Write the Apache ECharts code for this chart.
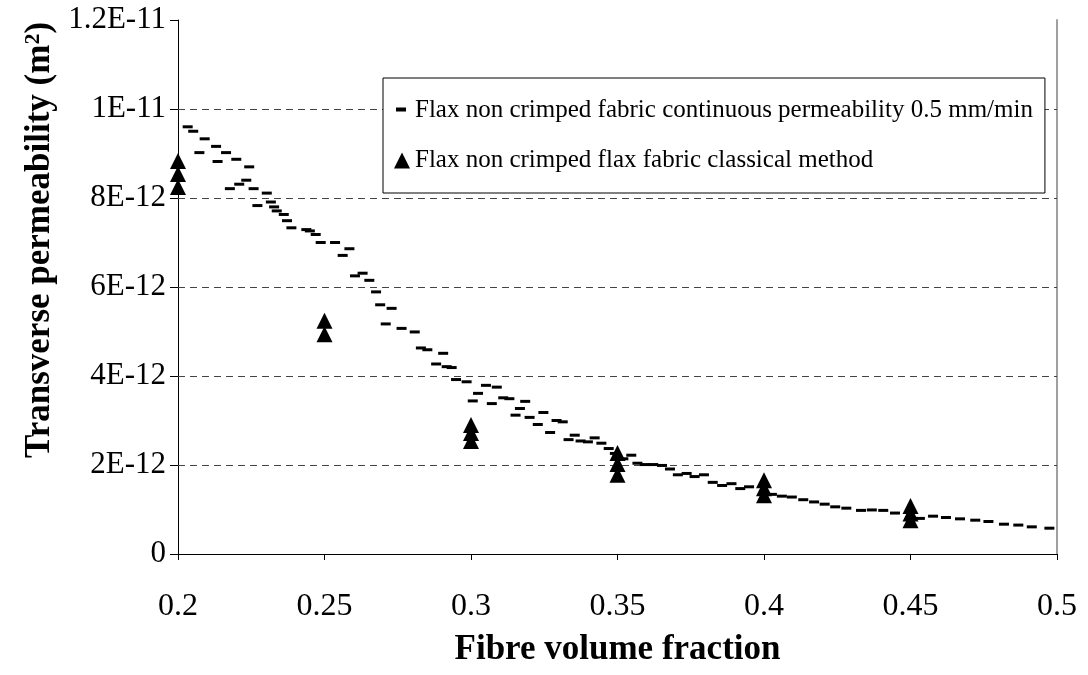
<!DOCTYPE html>
<html><head><meta charset="utf-8">
<script src="https://cdn.jsdelivr.net/npm/echarts@6/dist/echarts.min.js"></script>
<style>html,body{margin:0;padding:0;background:#fff}#c{width:1088px;height:675px}</style>
</head><body><div id="c"></div>
<script>
// Permeability values are stored in units of 1E-12 m^2
const seriesNames = ['Flax non crimped fabric continuous permeability 0.5 mm/min', 'Flax non crimped flax fabric classical method'];
const contFrac = [0.2033,0.2052,0.2073,0.2091,0.2130,0.2135,0.2164,0.2177,0.2199,0.2209,0.2233,0.2243,0.2258,0.2271,0.2303,0.2317,0.2328,0.2337,0.2361,0.2372,0.2387,0.2438,0.2450,0.2470,0.2487,0.2536,0.2562,0.2585,0.2604,0.2630,0.2653,0.2676,0.2690,0.2709,0.2729,0.2763,0.2808,0.2829,0.2851,0.2881,0.2905,0.2917,0.2934,0.2949,0.2985,0.3006,0.3024,0.3051,0.3071,0.3088,0.3110,0.3131,0.3152,0.3167,0.3185,0.3200,0.3228,0.3247,0.3270,0.3292,0.3313,0.3333,0.3354,0.3374,0.3399,0.3422,0.3445,0.3470,0.3491,0.3520,0.3547,0.3568,0.3593,0.3622,0.3652,0.3679,0.3706,0.3736,0.3763,0.3795,0.3825,0.3857,0.3889,0.3919,0.3949,0.4027,0.4061,0.4095,0.4134,0.4171,0.4207,0.4243,0.4281,0.4331,0.4368,0.4407,0.4447,0.4532,0.4577,0.4621,0.4669,0.4721,0.4766,0.4819,0.4868,0.4914,0.4974];
const contPerm = [9.60,9.50,9.02,9.33,9.16,8.82,9.02,8.21,8.87,8.31,8.40,8.70,8.21,7.83,8.11,7.91,7.80,7.71,7.63,7.49,7.33,7.29,7.26,7.18,7.00,7.00,6.71,6.86,6.25,6.31,6.15,5.89,5.60,5.17,5.52,5.07,4.99,4.63,4.59,4.27,4.51,4.21,4.19,3.92,3.87,3.44,3.61,3.79,3.38,3.75,3.51,3.49,3.12,3.27,3.43,3.07,2.91,3.18,2.73,3.00,2.97,2.57,2.67,2.54,2.52,2.61,2.49,2.37,2.26,2.14,2.22,2.04,2.01,2.01,1.99,1.91,1.78,1.81,1.74,1.78,1.61,1.54,1.58,1.47,1.51,1.34,1.30,1.28,1.22,1.17,1.12,1.06,1.03,0.98,0.99,0.98,0.92,0.80,0.85,0.82,0.79,0.76,0.73,0.67,0.65,0.61,0.58];
const classFrac = [0.2,0.2,0.2,0.25,0.25,0.3,0.3,0.3,0.35,0.35,0.35,0.4,0.4,0.4,0.45,0.45,0.45];
const classPerm = [8.83,8.54,8.25,5.24,4.94,2.90,2.72,2.54,2.27,2.02,1.78,1.66,1.48,1.32,1.08,0.91,0.76];
const yTickValues = [0,2,4,6,8,10,12];
const yTickLabels = ['0','2E-12','4E-12','6E-12','8E-12','1E-11','1.2E-11'];
const xTickLabels = ['0.2','0.25','0.3','0.35','0.4','0.45','0.5'];
const gridValues = [2,4,6,8,10];

const FONT = '"Liberation Serif", "Times New Roman", serif';
const chart = echarts.init(document.getElementById('c'));
const dashIcon = 'path://M0,0 L0,0.01 M2,5 L12,5 L12,9 L2,9 Z M16,16 L16,15.99';
chart.setOption({
  animation: false,
  backgroundColor: '#fff',
  grid: {left: 178, right: 31, top: 20, bottom: 121},
  legend: {
    orient: 'vertical', left: 383, top: 78,
    backgroundColor: '#fff', borderColor: '#000', borderWidth: 1,
    padding: [20, 12, 20, 11], itemGap: 25, itemWidth: 16, itemHeight: 16,
    textStyle: {fontFamily: FONT, fontSize: 25, color: '#000'},
    data: [{name: seriesNames[0], icon: dashIcon}, {name: seriesNames[1], icon: 'triangle'}]
  },
  xAxis: {
    type: 'value', min: 0.2, max: 0.5, interval: 0.05,
    axisLine: {show: true, lineStyle: {color: '#000', width: 1}},
    axisTick: {show: true, length: 6, lineStyle: {color: '#000'}},
    splitLine: {show: false},
    axisLabel: {fontFamily: FONT, fontSize: 32, color: '#000', margin: 37,
      formatter: v => xTickLabels[Math.round((v - 0.2) / 0.05)]},
    name: 'Fibre volume fraction', nameLocation: 'middle', nameGap: 78,
    nameTextStyle: {fontFamily: FONT, fontSize: 35, fontWeight: 'bold', color: '#000'}
  },
  yAxis: [{
    type: 'value', min: 0, max: 12, interval: 2,
    axisLine: {show: true, lineStyle: {color: '#000', width: 1}},
    axisTick: {show: true, length: 8, lineStyle: {color: '#000'}},
    splitLine: {show: false},
    axisLabel: {fontFamily: FONT, fontSize: 31, color: '#000', margin: 12,
      formatter: v => yTickLabels[yTickValues.indexOf(Math.round(v))]}
  }, {
    type: 'value', min: 0, max: 12, interval: 2, position: 'right',
    axisLine: {show: true, lineStyle: {color: '#a0a0a0', width: 2}},
    axisTick: {show: false}, axisLabel: {show: false}, splitLine: {show: false}
  }],
  graphic: [{
    type: 'text', x: 40, y: 240, rotation: Math.PI / 2,
    style: {
      text: 'Transverse permeability (m{sup|2})',
      font: 'bold 35px ' + FONT, fill: '#000', align: 'center', verticalAlign: 'middle',
      rich: {sup: {fontFamily: FONT, fontWeight: 'bold', fontSize: 22, verticalAlign: 'top', padding: [0,0,14,0]}}
    }
  }],
  series: [{
    name: seriesNames[0], type: 'scatter', symbol: 'rect', symbolSize: [10, 3],
    itemStyle: {color: '#000', opacity: 1},
    data: contFrac.map((x, i) => [x, contPerm[i]]),
    markLine: {
      silent: true, symbol: 'none', label: {show: false},
      lineStyle: {color: '#444', type: [7, 5], width: 1},
      data: gridValues.map(v => ({yAxis: v})), z: 1
    }
  }, {
    name: seriesNames[1], type: 'scatter', symbol: 'triangle', symbolSize: [16, 16],
    itemStyle: {color: '#000', opacity: 1},
    data: classFrac.map((x, i) => [x, classPerm[i]])
  }]
});
</script></body></html>
